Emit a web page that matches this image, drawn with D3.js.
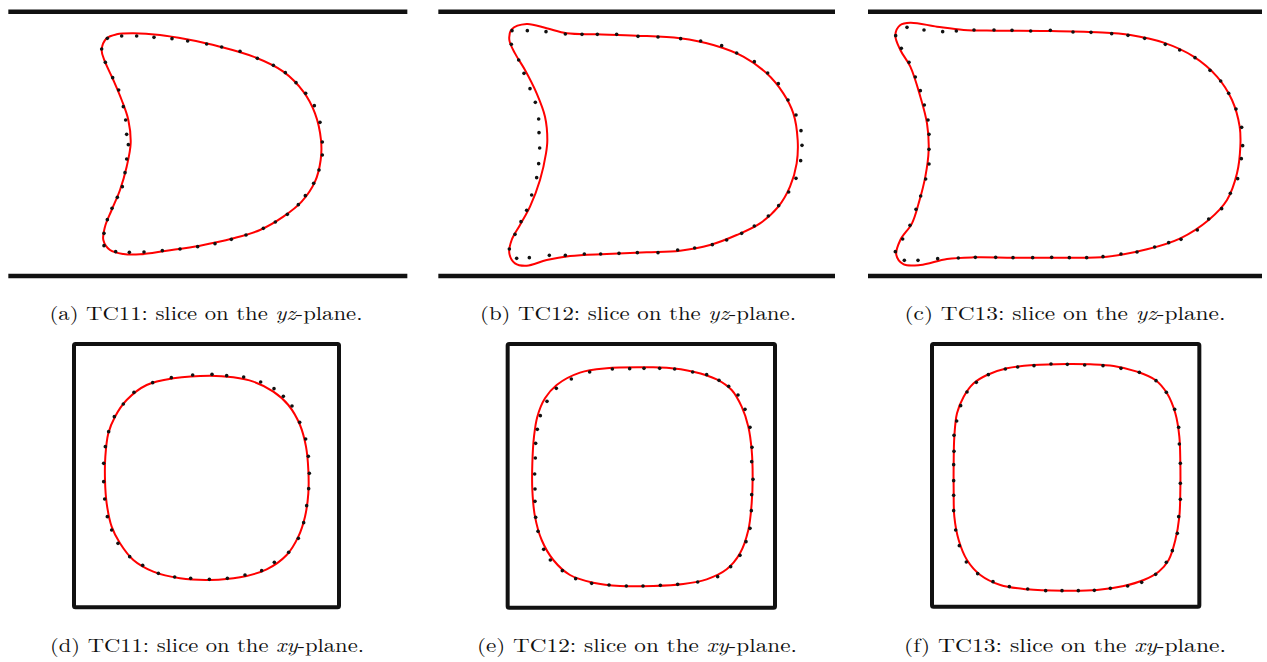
<!DOCTYPE html>
<html>
<head>
<meta charset="utf-8">
<script src="https://cdn.jsdelivr.net/npm/d3@7/dist/d3.min.js"></script>
<style>
body{margin:0;background:#fff;}
</style>
</head>
<body>
<script>

// ---- (a) TC11 yz ----
var wallA = [25, 1222, 35, 828]
var curveA = [[400,100],[480,105],[560,118],[660,140],[760,170],[850,215],[910,275],[945,340],[963,420],[962,480],[945,545],[905,605],[850,650],[780,690],[700,715],[600,737],[500,752],[420,763],[370,762],[330,750],[310,720],[315,680],[335,630],[360,570],[380,500],[392,430],[385,360],[365,300],[340,240],[315,185],[305,150],[320,115],[350,103]]
var dotsA = [[322,115],[305,147],[316,187],[338,233],[356,270],[370,320],[377,360],[380,403],[385,434],[380,477],[375,518],[367,560],[352,592],[336,625],[322,659],[312,700],[312,737],[347,755],[388,757],[432,756],[487,752],[540,747],[593,740],[645,731],[694,718],[738,705],[790,685],[826,666],[862,643],[895,614],[916,587],[941,550],[957,510],[967,465],[967,426],[960,367],[943,317],[917,280],[888,248],[856,218],[820,196],[772,175],[720,154],[665,141],[620,132],[563,123],[516,116],[462,112],[410,108],[365,108]]

// ---- (b) TC12 yz ----
var wallB = [55, 1245, 35, 828]
var curveB = [[320,72],[380,85],[440,100],[530,103],[650,107],[780,115],[880,135],[970,170],[1040,220],[1090,280],[1120,340],[1133,420],[1130,490],[1110,560],[1075,620],[1020,670],[950,705],[870,735],[780,752],[680,757],[560,762],[450,768],[380,780],[320,797],[285,790],[268,760],[275,720],[300,675],[330,620],[360,540],[378,460],[382,420],[375,350],[350,280],[315,210],[285,160],[268,120],[275,88]]
var dotsB = [[322,92],[378,95],[436,102],[486,103],[532,103],[590,103],[654,109],[714,111],[782,116],[842,123],[905,137],[950,159],[1003,185],[1043,219],[1075,251],[1104,300],[1128,345],[1143,392],[1146,436],[1142,482],[1128,535],[1106,576],[1076,617],[1045,648],[1003,678],[965,700],[920,720],[877,734],[824,744],[773,750],[714,758],[652,758],[597,760],[542,762],[493,762],[436,766],[388,766],[328,773],[290,775],[268,747],[285,703],[303,665],[320,631],[335,585],[350,533],[356,491],[359,444],[357,398],[356,357],[346,307],[330,266],[312,220],[296,180],[274,133],[276,92]]

// ---- (c) TC13 yz ----
var wallC = [63, 1245, 35, 828]
var curveC = [[190,68],[270,80],[350,90],[450,92],[600,93],[750,97],[850,105],[950,128],[1040,170],[1110,230],[1155,300],[1178,380],[1180,440],[1170,520],[1140,600],[1085,660],[1000,715],[900,748],[780,770],[650,773],[500,773],[380,772],[300,777],[220,795],[170,793],[148,765],[160,720],[195,670],[215,610],[235,530],[245,450],[240,370],[220,290],[190,200],[160,150],[145,105],[160,75]]
var dotsC = [[180,82],[231,90],[287,95],[328,93],[381,90],[441,90],[495,91],[551,93],[610,91],[678,96],[732,97],[794,101],[843,106],[893,115],[955,133],[998,150],[1044,173],[1089,211],[1121,243],[1145,280],[1167,327],[1184,382],[1187,437],[1183,476],[1172,536],[1150,580],[1124,626],[1085,657],[1051,690],[1002,718],[965,728],[923,741],[870,756],[822,762],[768,770],[719,773],[667,773],[614,772],[557,773],[498,773],[446,772],[385,772],[334,774],[272,776],[213,781],[172,781],[145,755],[167,717],[189,676],[207,628],[221,588],[236,537],[246,492],[246,448],[246,403],[243,360],[232,315],[220,272],[205,231],[186,187],[163,145],[146,107]]

// ---- (d) TC11 xy ----
var boxD = [222, 1017, 42, 832]
var curveD = [[630,137],[520,145],[440,165],[380,210],[345,260],[325,310],[316,380],[315,450],[320,520],[335,590],[360,640],[400,690],[460,725],[540,745],[630,750],[720,742],[800,718],[860,675],[895,620],[915,560],[925,490],[925,420],[918,350],[900,285],[865,225],[820,185],[760,155],[700,142]]
var dotsD = [[578,135],[636,133],[680,137],[731,141],[782,156],[822,176],[850,199],[876,228],[899,277],[917,327],[925,379],[928,430],[926,476],[920,527],[911,578],[895,625],[866,667],[823,697],[785,722],[735,735],[682,745],[628,748],[572,745],[524,741],[475,730],[428,706],[389,680],[354,640],[335,600],[322,560],[314,507],[311,455],[311,400],[316,350],[326,305],[343,260],[370,222],[402,187],[458,158],[514,143]]

// ---- (e) TC12 xy ----
var boxE = [263, 1065, 42, 833]
var curveE = [[670,112],[560,115],[480,128],[410,165],[375,205],[352,260],[342,320],[337,400],[337,480],[345,560],[365,630],[400,690],[450,735],[520,758],[600,768],[700,768],[790,762],[860,748],[920,718],[960,670],[985,600],[995,520],[998,440],[995,360],[985,290],[965,230],[935,180],[890,148],[820,125],[740,113]]
var dotsE = [[577,117],[629,116],[672,115],[719,115],[764,117],[818,126],[860,134],[897,151],[926,169],[954,195],[975,238],[990,292],[996,352],[995,395],[999,448],[995,494],[994,542],[990,595],[978,635],[960,676],[932,710],[893,740],[833,756],[773,763],[721,766],[669,768],[619,768],[567,765],[515,760],[467,746],[427,722],[391,690],[371,658],[354,604],[347,562],[345,514],[345,477],[344,432],[346,384],[347,340],[352,298],[361,257],[381,214],[409,175],[454,147],[509,126]]

// ---- (f) TC13 xy ----
var boxF = [255, 1057, 42, 830]
var curveF = [[660,102],[560,105],[480,115],[420,135],[380,160],[350,200],[330,250],[322,320],[320,400],[320,480],[322,560],[335,630],[360,690],[400,735],[460,765],[540,778],[650,782],[750,780],[830,768],[890,750],[935,725],[965,690],[985,630],[997,560],[1000,480],[1000,400],[997,320],[985,250],[960,190],[925,150],[870,125],[800,108],[730,103]]
var dotsF = [[512,111],[561,107],[612,102],[661,103],[713,105],[768,107],[822,115],[877,127],[927,152],[958,187],[983,238],[995,292],[997,342],[1000,400],[1000,460],[1000,508],[995,560],[991,610],[976,662],[958,697],[926,733],[884,757],[842,768],[790,775],[742,781],[694,782],[645,782],[596,782],[542,777],[487,770],[438,755],[392,731],[358,696],[337,647],[326,600],[320,542],[320,496],[320,452],[320,404],[321,364],[321,316],[329,273],[341,227],[360,186],[388,157],[424,134],[475,117]]

var captions = [
	["(a) TC11: slice on the ", "yz", "-plane."],
	["(b) TC12: slice on the ", "yz", "-plane."],
	["(c) TC13: slice on the ", "yz", "-plane."],
	["(d) TC11: slice on the ", "xy", "-plane."],
	["(e) TC12: slice on the ", "xy", "-plane."],
	["(f) TC13: slice on the ", "xy", "-plane."]
]

var W = 1267, H = 662

var svg = d3.select("body")
	.append("svg")
	.attr("width", W)
	.attr("height", H)

var panels = [
	{kind:"walls", frame:wallA, curve:curveA, dots:dotsA, ox:0,   oy:0,   cap:captions[0], cx:206, cy:320, tl:313},
	{kind:"walls", frame:wallB, curve:curveB, dots:dotsB, ox:420, oy:0,   cap:captions[1], cx:638, cy:320, tl:316},
	{kind:"walls", frame:wallC, curve:curveC, dots:dotsC, ox:847, oy:0,   cap:captions[2], cx:1065, cy:320, tl:321},
	{kind:"box",   frame:boxD,  curve:curveD, dots:dotsD, ox:0,   oy:330, cap:captions[3], cx:207, cy:652, tl:314},
	{kind:"box",   frame:boxE,  curve:curveE, dots:dotsE, ox:420, oy:330, cap:captions[4], cx:637, cy:652, tl:320},
	{kind:"box",   frame:boxF,  curve:curveF, dots:dotsF, ox:847, oy:330, cap:captions[5], cx:1065, cy:652, tl:322}
]

panels.forEach(function(p){
	var x = d3.scaleLinear().domain([0, 1260]).range([p.ox, p.ox + 420])
	var y = d3.scaleLinear().domain([0, 870]).range([p.oy, p.oy + 290])
	var g = svg.append("g")
	var f = p.frame

	if(p.kind == "walls"){
		g.selectAll("line.wall")
			.data([f[2], f[3]])
			.enter()
			.append("line")
			.attr("x1", x(f[0]))
			.attr("x2", x(f[1]))
			.attr("y1", function(d){return y(d)})
			.attr("y2", function(d){return y(d)})
			.attr("stroke", "#111")
			.attr("stroke-width", 4.5)
	}else{
		g.append("rect")
			.attr("x", x(f[0]))
			.attr("y", y(f[2]))
			.attr("width", x(f[1]) - x(f[0]))
			.attr("height", y(f[3]) - y(f[2]))
			.attr("rx", 1.5)
			.attr("fill", "none")
			.attr("stroke", "#111")
			.attr("stroke-width", 4)
	}

	var line = d3.line()
		.x(function(d){return x(d[0])})
		.y(function(d){return y(d[1])})
		.curve(d3.curveCatmullRomClosed.alpha(0.5))

	g.append("path")
		.datum(p.curve)
		.attr("d", line)
		.attr("fill", "none")
		.attr("stroke", "#f00")
		.attr("stroke-width", 2)

	g.selectAll("circle")
		.data(p.dots)
		.enter()
		.append("circle")
		.attr("cx", function(d){return x(d[0])})
		.attr("cy", function(d){return y(d[1])})
		.attr("r", 1.8)
		.attr("fill", "#111")

	var t = svg.append("text")
		.attr("x", p.cx)
		.attr("y", p.cy)
		.attr("text-anchor", "middle")
		.attr("font-family", "'Latin Modern Roman','CMU Serif','Liberation Serif',serif")
		.attr("font-size", 19)
		.attr("fill", "#111")
		.attr("textLength", p.tl)
		.attr("lengthAdjust", "spacingAndGlyphs")
	t.append("tspan").text(p.cap[0])
	t.append("tspan").attr("font-style", "italic").text(p.cap[1])
	t.append("tspan").text(p.cap[2])
})
</script>
</body>
</html>
